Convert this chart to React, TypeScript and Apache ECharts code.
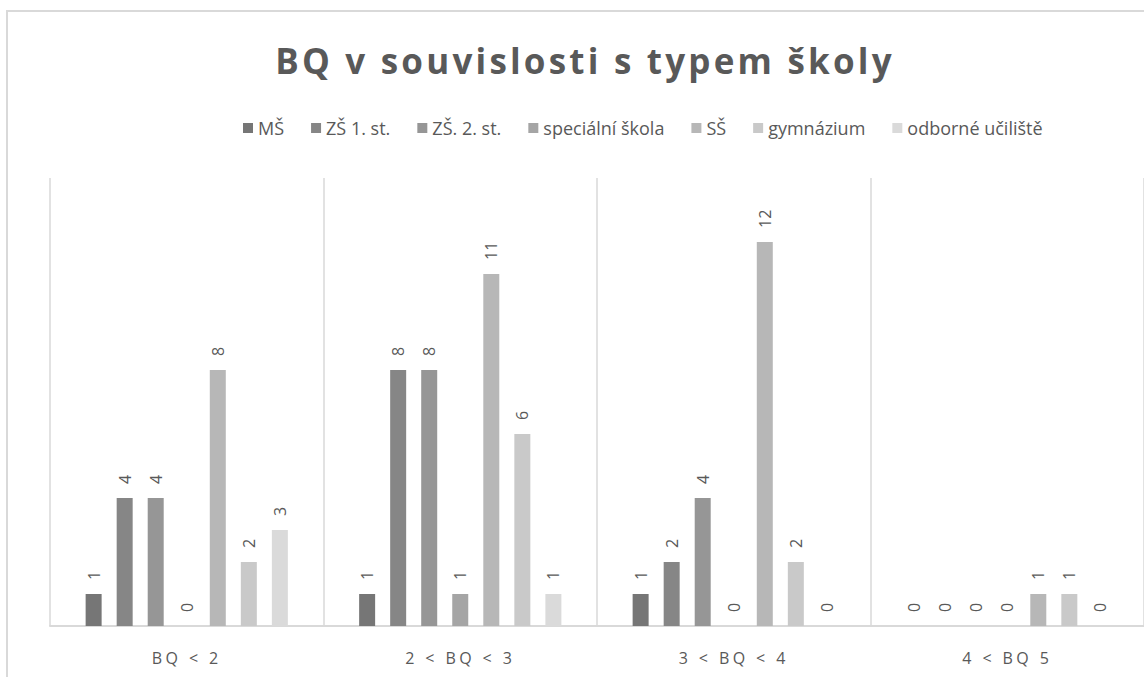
import React, { useEffect, useRef } from "react";
import * as echarts from "echarts";

const categories = ["BQ < 2", "2 < BQ < 3", "3 < BQ < 4", "4 < BQ 5"];
const seriesNames = ["MŠ", "ZŠ 1. st.", "ZŠ. 2. st.", "speciální škola", "SŠ", "gymnázium", "odborné učiliště"];
const msValues = [1, 1, 1, 0];
const zs1Values = [4, 8, 2, 0];
const zs2Values = [4, 8, 4, 0];
const specialValues = [0, 1, 0, 0];
const ssValues = [8, 11, 12, 1];
const gymValues = [2, 6, 2, 1];
const ouValues = [3, 1, 0, 0];
const seriesValues = [msValues, zs1Values, zs2Values, specialValues, ssValues, gymValues, ouValues];
const colors = ["#767676", "#868686", "#969696", "#a5a5a5", "#b7b7b7", "#c9c9c9", "#dadada"];
const TITLE = "BQ v souvislosti s typem školy";

const FONT = "'Open Sans', sans-serif";

export default function App() {
  const ref = useRef<HTMLDivElement>(null);
  useEffect(() => {
    if (!ref.current) return;
    const chart = echarts.init(ref.current, null, { renderer: "svg" });
    chart.setOption({
      animation: false,
      backgroundColor: "#ffffff",
      title: {
        text: TITLE,
        left: 580,
        textAlign: "center",
        top: 38,
        textStyle: { fontFamily: FONT, fontSize: 35, fontWeight: "bold", color: "#595959" },
      },
      legend: {
        data: seriesNames,
        left: 243,
        top: 119,
        padding: 0,
        itemWidth: 10,
        itemHeight: 10,
        itemGap: 27,
        icon: "rect",
        textStyle: { fontFamily: FONT, fontSize: 18, color: "#595959" },
      },
      graphic: [
        {
          type: "rect",
          shape: { x: 7, y: 11, width: 1300, height: 900 },
          style: { fill: "none", stroke: "#d9d9d9", lineWidth: 2 },
          silent: true,
        },
      ],
      grid: { left: 50, right: 0, top: 178, bottom: 51, containLabel: false },
      xAxis: {
        type: "category",
        data: categories,
        axisLine: { show: true, lineStyle: { color: "#d9d9d9", width: 2 } },
        axisTick: { show: false },
        splitLine: { show: true, lineStyle: { color: "#d9d9d9", width: 1.5 } },
        axisLabel: { fontFamily: FONT, fontSize: 16, color: "#595959", margin: 24 },
      },
      yAxis: {
        type: "value",
        min: 0,
        max: 14,
        show: false,
        splitLine: { show: false },
      },
      series: seriesNames.map((name, i) => ({
        name,
        type: "bar",
        data: seriesValues[i],
        barWidth: 16,
        barGap: "94%",
        itemStyle: { color: colors[i] },
        label: {
          show: true,
          position: "top",
          rotate: 90,
          align: "left",
          verticalAlign: "middle",
          distance: 14,
          fontFamily: FONT,
          fontSize: 16,
          color: "#595959",
        },
      })),
    });
    const root = ref.current;
    root.querySelectorAll("text").forEach((t) => {
      const s = (t.textContent || "").trim();
      if (s === TITLE) {
        (t as SVGTextElement).style.letterSpacing = "3.2px";
      } else if (categories.indexOf(s) >= 0) {
        (t as SVGTextElement).style.letterSpacing = "3.4px";
      }
    });
    return () => chart.dispose();
  }, []);
  return <div ref={ref} style={{ position: "absolute", left: 0, top: 0, width: 1144, height: 677 }} />;
}
